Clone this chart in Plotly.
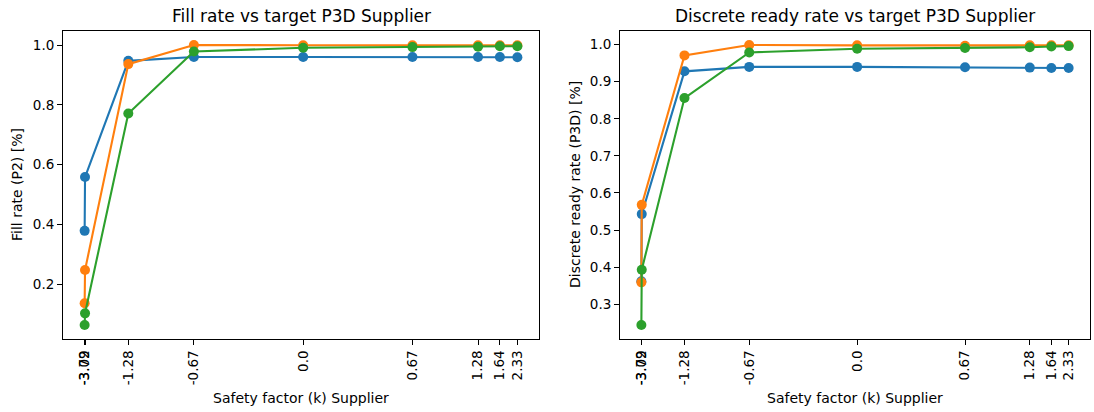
import plotly.graph_objects as go

# Target service levels (x positions) and their safety-factor tick labels
target_p = [0.0001, 0.001, 0.10, 0.25, 0.50, 0.75, 0.90, 0.95, 0.99]
k_labels = ["-3.72", "-3.09", "-1.28", "-0.67", "0.0", "0.67", "1.28", "1.64", "2.33"]

# Fill rate (P2)
fill_blue = [0.378, 0.558, 0.947, 0.960, 0.960, 0.960, 0.960, 0.960, 0.959]
fill_orange = [0.136, 0.247, 0.936, 1.000, 0.999, 0.999, 0.999, 0.999, 0.999]
fill_green = [0.063, 0.102, 0.771, 0.978, 0.991, 0.993, 0.994, 0.996, 0.996]

# Discrete ready rate (P3D)
ready_blue = [0.362, 0.543, 0.928, 0.940, 0.940, 0.939, 0.938, 0.937, 0.937]
ready_orange = [0.359, 0.568, 0.971, 0.999, 0.998, 0.997, 0.998, 0.998, 0.998]
ready_green = [0.244, 0.393, 0.856, 0.979, 0.989, 0.991, 0.993, 0.995, 0.996]

titles = ["Fill rate vs target P3D Supplier", "Discrete ready rate vs target P3D Supplier"]
ylabels = ["Fill rate (P2) [%]", "Discrete ready rate (P3D) [%]"]
xlabel = "Safety factor (k) Supplier"
colors = ["#1f77b4", "#ff7f0e", "#2ca02c"]

FONT = "DejaVu Sans"
W, H = 1094, 412
ML, MR, MT, MB = 63, 4, 31, 73
PW, PH = W - ML - MR, H - MT - MB

def px_x(px):
    return (px - ML) / PW

def px_y(py):
    return 1 - (py - MT) / PH

fig = go.Figure()
panels = [
    ([fill_blue, fill_orange, fill_green], "x", "y"),
    ([ready_blue, ready_orange, ready_green], "x2", "y2"),
]
for series, xa, ya in panels:
    for s, c in zip(series, colors):
        fig.add_trace(go.Scatter(
            x=target_p, y=s, mode="lines+markers", xaxis=xa, yaxis=ya,
            line=dict(color=c, width=2.1), marker=dict(color=c, size=10),
            showlegend=False, hoverinfo="x+y"))

def yrange(series):
    lo = min(min(s) for s in series)
    hi = max(max(s) for s in series)
    m = (hi - lo) * 0.05
    return [lo - m, hi + m]

xlo, xhi = min(target_p), max(target_p)
xm = (xhi - xlo) * 0.05
xr = [xlo - xm, xhi + xm]

axis_common = dict(showline=True, linecolor="black", linewidth=1, mirror=True,
                   ticks="outside", ticklen=5, tickcolor="black", showgrid=False,
                   zeroline=False, automargin=False,
                   tickfont=dict(family=FONT, size=13.5, color="black"))

fig.update_layout(
    width=W, height=H, margin=dict(l=ML, r=MR, t=MT, b=MB, autoexpand=False),
    paper_bgcolor="white", plot_bgcolor="white",
    font=dict(family=FONT, color="black"),
    xaxis=dict(domain=[0, px_x(539)], range=xr, tickmode="array",
               tickvals=target_p, ticktext=k_labels, tickangle=-90,
               anchor="y", **axis_common),
    yaxis=dict(domain=[0, 1], range=yrange(panels[0][0]), dtick=0.2, tickformat=".1f",
               anchor="x", **axis_common),
    xaxis2=dict(domain=[px_x(620), 1], range=xr, tickmode="array",
                tickvals=target_p, ticktext=k_labels, tickangle=-90,
                anchor="y2", **axis_common),
    yaxis2=dict(domain=[0, 1], range=yrange(panels[1][0]), dtick=0.1, tickformat=".1f",
                anchor="x2", **axis_common),
)

ann = []
centers = [(63 + 539) / 2, (620 + 1090) / 2]
ylab_x = [17, 575]
for i in range(2):
    ann.append(dict(text=titles[i], x=px_x(centers[i]), y=px_y(16), xref="paper", yref="paper",
                    showarrow=False, font=dict(family=FONT, size=17, color="black"),
                    xanchor="center", yanchor="middle"))
    ann.append(dict(text=xlabel, x=px_x(centers[i]), y=px_y(398), xref="paper", yref="paper",
                    showarrow=False, font=dict(family=FONT, size=14, color="black"),
                    xanchor="center", yanchor="middle"))
    ann.append(dict(text=ylabels[i], x=px_x(ylab_x[i]), y=px_y((31 + 339) / 2), xref="paper",
                    yref="paper", showarrow=False, textangle=-90,
                    font=dict(family=FONT, size=14, color="black"),
                    xanchor="center", yanchor="middle"))
fig.update_layout(annotations=ann)

fig.write_html(
    "out.html",
    config={"displayModeBar": False},
    post_script="document.body.style.margin='0px';document.body.style.overflow='hidden';",
)
